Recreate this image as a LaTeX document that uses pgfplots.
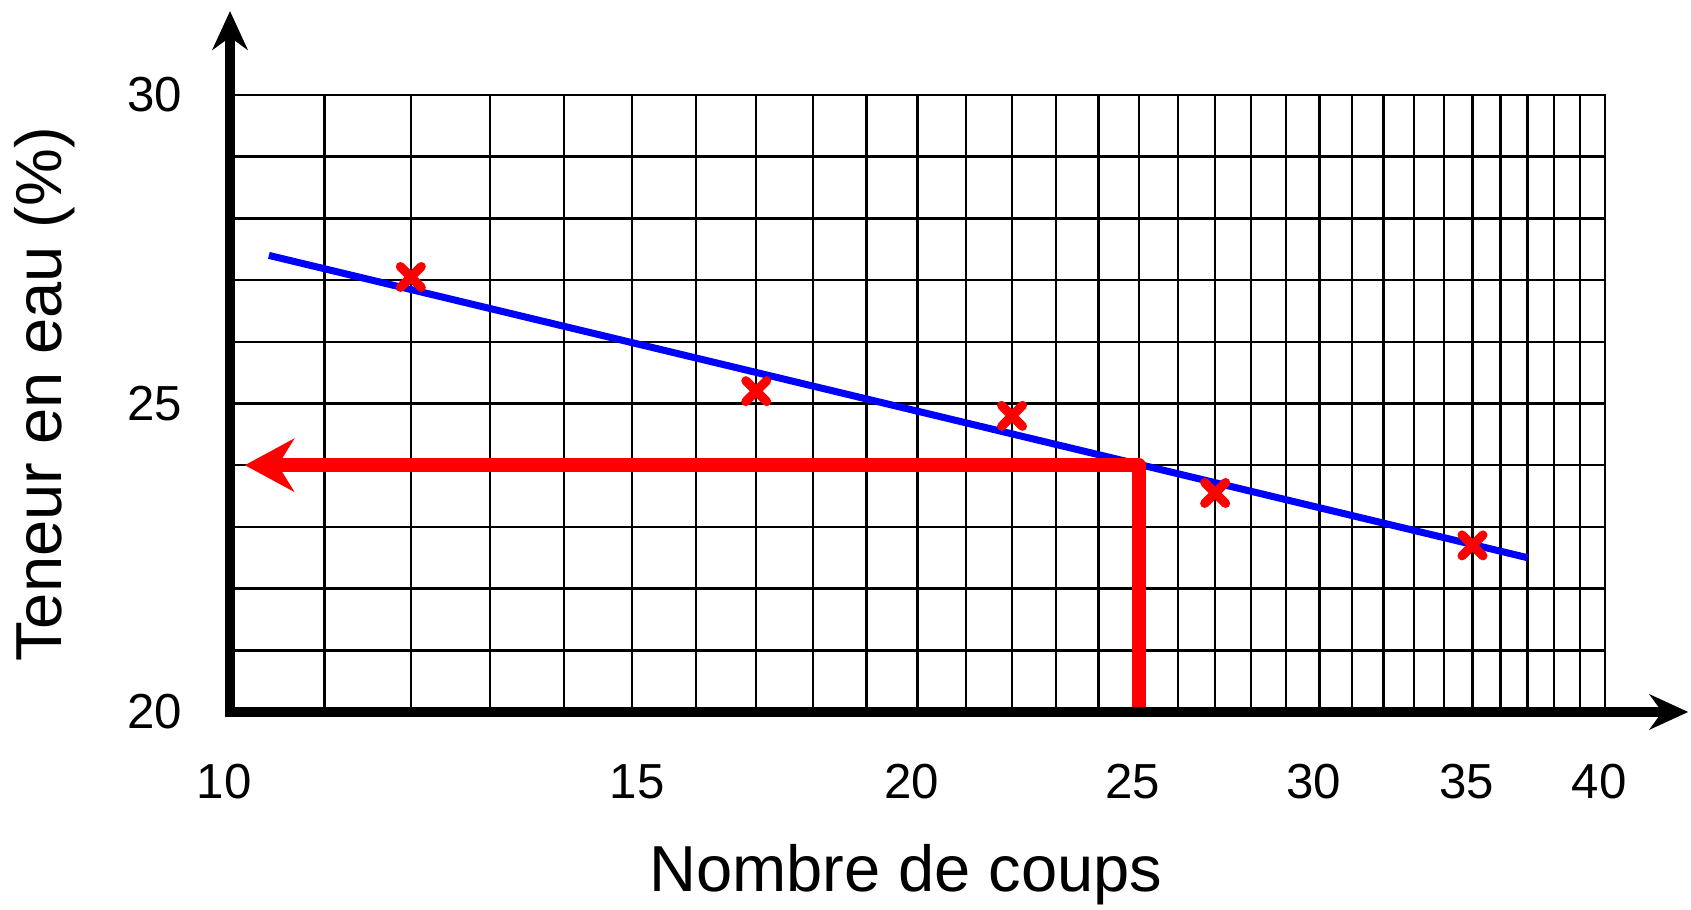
\documentclass[border=0pt]{standalone}
\usepackage{pgfplots}
\pgfplotsset{compat=1.18}
\usetikzlibrary{arrows.meta}
\usepackage{fontspec}
\setmainfont{Liberation Sans}
\begin{document}
\begin{tikzpicture}
\path[use as bounding box] (0,0) rectangle (16.91cm,9.10cm);
\begin{axis}[
  at={(2.30cm,1.98cm)}, anchor=south west,
  scale only axis, width=13.75cm, height=6.17cm,
  xmode=log, xmin=10, xmax=40, ymin=20, ymax=30,
  clip=false,
  xtick={10,15,20,25,30,35,40},
  xticklabels={10,\hspace*{0.22cm}15,20,25,30,35,40},
  minor xtick={11,12,13,14,16,17,18,19,21,22,23,24,26,27,28,29,31,32,33,34,36,37,38,39},
  ytick={20,25,30}, yticklabels={20,25,30},
  minor ytick={21,22,23,24,26,27,28,29},
  grid=both,
  major grid style={black, line width=0.7pt},
  minor grid style={black, line width=0.7pt},
  axis line style={black, line width=0.7pt},
  major tick length=0pt, minor tick length=0pt,
  /pgf/number format/assume math mode=true,
  tick label style={font=\fontsize{14}{16}\selectfont, inner sep=0pt},
  xticklabel style={anchor=center, yshift=-0.70cm, xshift=-0.06cm},
  yticklabel style={anchor=east, xshift=-0.47cm},
  xlabel={Nombre de coups},
  ylabel={Teneur en eau (\%)},
  label style={font=\fontsize{18.5}{22}\selectfont},
  xlabel style={at={(axis description cs:0.4916,-0.264)}, anchor=center},
  ylabel style={at={(axis description cs:-0.1345,0.515)}, anchor=center},
]
\addplot[blue, line width=2pt] coordinates {(10.4,27.4) (37,22.5)};
\addplot[only marks, red, mark=x, mark size=4.2pt, mark options={line width=2.6pt, line cap=round}]
  coordinates {(12,27.05) (17,25.2) (22,24.8) (27,23.55) (35,22.7)};
\addplot[red, line width=4pt, line join=round, -{Stealth[length=14pt,width=15pt]}]
  coordinates {(25,20.05) (25,24) (10.15,24)};
\draw[black, line width=3pt, line cap=rect, -{Stealth[length=11pt,width=10pt]}] (axis cs:10,20) -- (axis cs:10,31.36);
\draw[black, line width=3pt, line cap=rect, -{Stealth[length=11pt,width=10pt]}] (axis cs:10,20) -- (axis cs:43.5,20);
\end{axis}
\end{tikzpicture}
\end{document}
